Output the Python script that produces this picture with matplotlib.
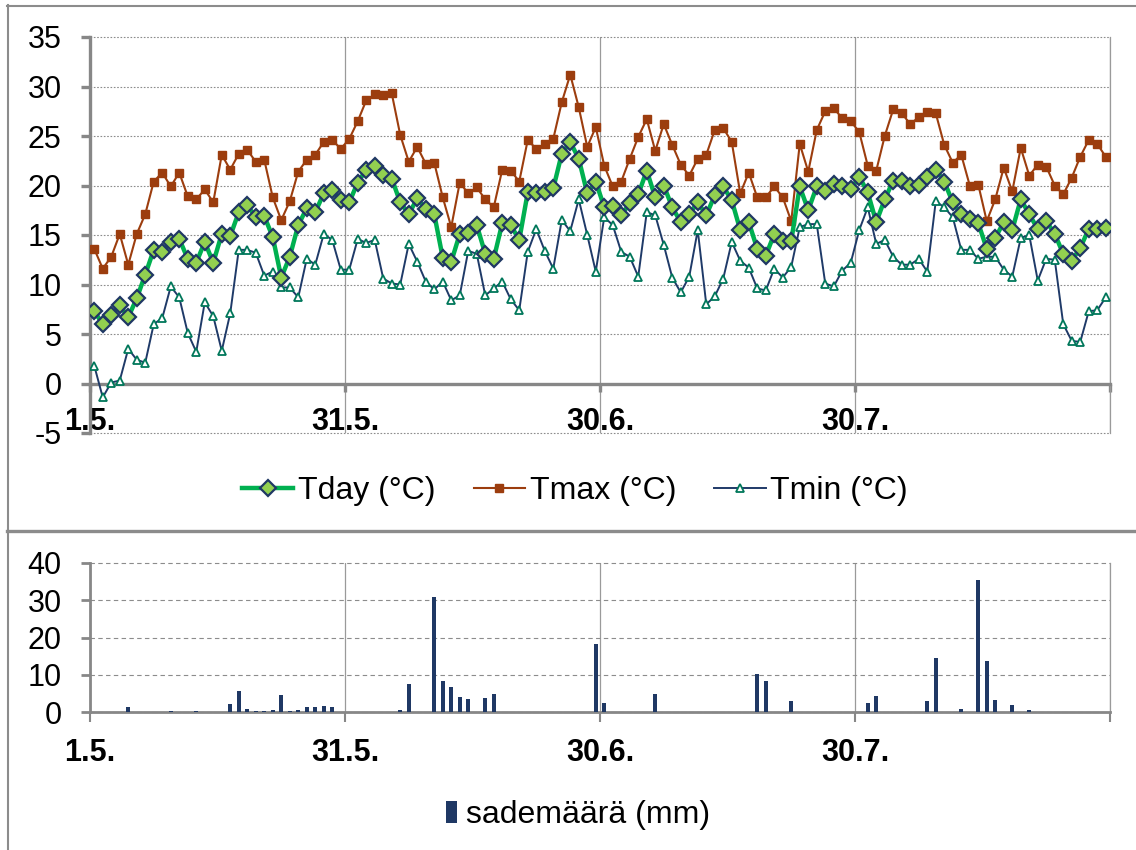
import numpy as np
import matplotlib
matplotlib.use('Agg')
import matplotlib.pyplot as plt
from matplotlib.lines import Line2D

plt.rcParams['font.family'] = ['Liberation Sans', 'DejaVu Sans']
plt.rcParams['axes.unicode_minus'] = False

# daily temperatures 1.5. - 28.8. (degC)
tday = [7.3, 6.0, 6.9, 7.9, 6.7, 8.6, 11.0, 13.5, 13.3, 14.3,
        14.6, 12.6, 12.2, 14.3, 12.2, 15.1, 14.9, 17.3, 18.0, 16.8,
        16.9, 14.8, 10.7, 12.8, 16.0, 17.7, 17.3, 19.2, 19.5, 18.5,
        18.3, 20.3, 21.6, 22.0, 21.1, 20.7, 18.3, 17.1, 18.7, 17.6,
        17.1, 12.7, 12.3, 15.1, 15.2, 16.0, 13.1, 12.6, 16.2, 16.0,
        14.5, 19.3, 19.2, 19.3, 19.7, 23.2, 24.4, 22.7, 19.2, 20.4,
        17.8, 17.9, 17.0, 18.2, 19.1, 21.5, 18.8, 20.0, 17.8, 16.3,
        17.1, 18.3, 17.0, 19.0, 19.9, 18.5, 15.5, 16.3, 13.6, 12.9,
        15.1, 14.4, 14.4, 19.9, 17.5, 19.9, 19.4, 20.2, 20.0, 19.6,
        20.9, 19.3, 16.3, 18.6, 20.5, 20.5, 20.0, 20.1, 20.9, 21.6,
        20.4, 18.3, 17.1, 16.6, 16.2, 13.6, 14.7, 16.3, 15.5, 18.6,
        17.1, 15.6, 16.4, 15.1, 13.1, 12.4, 13.7, 15.6, 15.6, 15.7]

tmax = [13.6, 11.6, 12.8, 15.1, 12.0, 15.1, 17.1, 20.4, 21.3, 19.9,
        21.3, 18.9, 18.6, 19.6, 18.3, 23.1, 21.6, 23.2, 23.6, 22.4,
        22.6, 18.8, 16.5, 18.4, 21.4, 22.6, 23.1, 24.4, 24.6, 23.7,
        24.7, 26.5, 28.6, 29.2, 29.1, 29.3, 25.1, 22.4, 23.9, 22.2,
        22.3, 18.8, 15.8, 20.3, 19.2, 19.8, 18.6, 17.8, 21.6, 21.5,
        20.4, 24.6, 23.7, 24.2, 24.7, 28.4, 31.2, 27.9, 23.9, 25.9,
        22.0, 19.9, 20.4, 22.7, 24.9, 26.7, 23.5, 26.2, 24.1, 22.1,
        21.0, 22.7, 23.1, 25.6, 25.8, 24.4, 19.2, 21.3, 18.8, 18.8,
        19.9, 18.8, 16.4, 24.2, 21.4, 25.6, 27.5, 27.8, 26.8, 26.5,
        25.4, 22.0, 21.5, 25.0, 27.7, 27.3, 26.2, 26.9, 27.4, 27.3,
        24.1, 22.3, 23.1, 20.0, 20.1, 16.4, 18.6, 21.8, 19.4, 23.8,
        21.0, 22.1, 21.9, 20.0, 19.1, 20.8, 22.9, 24.6, 24.2, 22.9]

tmin = [1.8, -1.4, 0.1, 0.3, 3.5, 2.4, 2.1, 6.0, 6.6, 9.8,
        8.7, 5.1, 3.2, 8.2, 6.8, 3.3, 7.1, 13.5, 13.5, 13.2,
        10.9, 11.3, 9.7, 9.7, 8.7, 12.6, 12.0, 15.1, 14.5, 11.5,
        11.5, 14.6, 14.2, 14.5, 10.6, 10.1, 10.0, 14.1, 12.3, 10.3,
        9.5, 10.3, 8.4, 8.9, 13.4, 13.1, 8.9, 9.6, 10.3, 8.5,
        7.4, 13.3, 15.6, 13.4, 11.6, 16.5, 15.4, 18.6, 15.0, 11.3,
        16.8, 16.0, 13.3, 12.8, 10.8, 17.3, 17.0, 14.0, 10.7, 9.2,
        10.8, 15.5, 8.0, 8.8, 10.6, 14.3, 12.4, 11.7, 9.6, 9.4,
        11.6, 10.7, 11.8, 15.8, 16.1, 16.1, 10.1, 9.8, 11.4, 12.2,
        15.5, 17.8, 14.1, 14.5, 12.8, 12.0, 12.0, 12.6, 11.3, 18.4,
        17.8, 16.8, 13.5, 13.5, 12.6, 12.8, 12.8, 11.5, 10.8, 14.7,
        15.0, 10.4, 12.6, 12.5, 6.0, 4.3, 4.2, 7.3, 7.4, 8.7]

# precipitation, day index from 1.5. and amount (mm)
rain_day = [4, 9, 12, 16, 17, 18, 19, 20, 21, 22, 23, 24, 25, 26, 27, 28,
            36, 37, 40, 41, 42, 43, 44, 46, 47, 59, 60, 66, 78, 79, 82,
            91, 92, 98, 99, 102, 104, 105, 106, 108, 110]
rain_mm = [1.3, 0.4, 0.4, 2.2, 5.7, 0.9, 0.4, 0.4, 0.6, 4.5, 0.4, 0.6, 1.3, 1.3, 1.6, 1.3,
           0.6, 7.4, 30.8, 8.2, 6.7, 4.1, 3.5, 3.8, 4.8, 18.2, 2.3, 4.8, 10.3, 8.2, 2.9,
           2.5, 4.2, 2.9, 14.6, 0.9, 35.5, 13.6, 3.1, 2.0, 0.6]

tick_pos = [0, 30, 60, 90, 120]
tick_labels = ['1.5.', '31.5.', '30.6.', '30.7.', '']

axis_grey = '#878787'
W, H = 1136, 850

fig = plt.figure(figsize=(W / 100, H / 100), dpi=100)
ax1 = fig.add_axes([90 / W, 1 - 433 / H, 1020 / W, 396 / H])
ax2 = fig.add_axes([90 / W, 1 - 712 / H, 1020 / W, 149 / H])

days = np.arange(len(tday)) + 0.5

# --- temperatures
l_min, = ax1.plot(days, tmin, color='#1F3A68', lw=1.4, marker='^', ms=6,
                  mfc='white', mec='#00775A', mew=1.3, zorder=3)
l_max, = ax1.plot(days, tmax, color='#9C3D0E', lw=1.5, marker='s', ms=5.3,
                  mec='#9C3D0E', zorder=4)
l_day, = ax1.plot(days, tday, color='#00B050', lw=3.2, marker='D', ms=8.5,
                  mfc='#92D050', mec='#1F3864', mew=1.6, zorder=5)

ax1.spines['bottom'].set_position(('data', 0))
ax1.set_xlim(0, 120)
ax1.set_ylim(-5, 35)
ax1.set_yticks(range(-5, 36, 5))
ax1.set_xticks(tick_pos)
ax1.set_xticklabels(tick_labels, fontweight='bold', fontsize=22)
ax1.spines['top'].set_visible(False)
ax1.spines['right'].set_color('#9a9a9a')
ax1.spines['right'].set_linewidth(0.9)
for s in ['left', 'bottom']:
    ax1.spines[s].set_color(axis_grey)
    ax1.spines[s].set_linewidth(2.4)
ax1.tick_params(axis='x', direction='out', length=6, width=2.4, color=axis_grey, pad=11)
ax1.tick_params(axis='y', direction='out', length=6.5, width=2.4, color=axis_grey,
                pad=14, labelsize=22)
ax1.yaxis.grid(True, color='#8c8c8c', lw=0.8, linestyle=(0, (1.5, 1.5)))
ax1.xaxis.grid(True, color='#9a9a9a', lw=0.9)
for gl in ax1.get_ygridlines():
    gl.set_clip_on(False)
ax1.set_axisbelow(True)

fig.legend([l_day, l_max, l_min], ['Tday (°C)', 'Tmax (°C)', 'Tmin (°C)'],
           loc='center', bbox_to_anchor=(575 / W, 1 - 491 / H), ncol=3, frameon=False,
           fontsize=23, handlelength=1.6, handletextpad=0.15, columnspacing=1.2)

# --- precipitation
bars = ax2.bar(np.array(rain_day) + 0.5, rain_mm, width=0.42, color='#1F3864', zorder=3)
ax2.set_xlim(0, 120)
ax2.set_ylim(0, 40)
ax2.set_yticks(range(0, 41, 10))
ax2.set_xticks(tick_pos)
ax2.set_xticklabels(tick_labels, fontweight='bold', fontsize=22)
ax2.spines['top'].set_visible(False)
ax2.spines['right'].set_color('#9a9a9a')
ax2.spines['right'].set_linewidth(0.9)
for s in ['left', 'bottom']:
    ax2.spines[s].set_color(axis_grey)
    ax2.spines[s].set_linewidth(2.0)
ax2.tick_params(axis='x', direction='out', length=7, width=1.5, color=axis_grey, pad=12)
ax2.tick_params(axis='y', direction='out', length=6.5, width=2.0, color=axis_grey,
                pad=14, labelsize=22)
ax2.yaxis.grid(True, color='#8c8c8c', lw=0.8, linestyle=(0, (4, 3)))
ax2.xaxis.grid(True, color='#9a9a9a', lw=0.9)
for gl in ax2.get_ygridlines():
    gl.set_clip_on(False)
ax2.set_axisbelow(True)

fig.legend([bars], ['sademäärä (mm)'], loc='center', bbox_to_anchor=(578 / W, 1 - 815 / H),
           frameon=False, fontsize=23, handlelength=0.35, handleheight=0.7, handletextpad=0.3)

# chart frames
frame = dict(transform=fig.transFigure, color='#8c8c8c')
fig.add_artist(Line2D([7.5 / W, 7.5 / W], [0, 1 - 5 / H], lw=1.5, **frame))
fig.add_artist(Line2D([7 / W, 1], [1 - 5.5 / H, 1 - 5.5 / H], lw=1.5, **frame))
fig.add_artist(Line2D([7 / W, 1], [1 - 530.5 / H, 1 - 530.5 / H], lw=2.4, **frame))

fig.savefig('out.png', dpi=100)
